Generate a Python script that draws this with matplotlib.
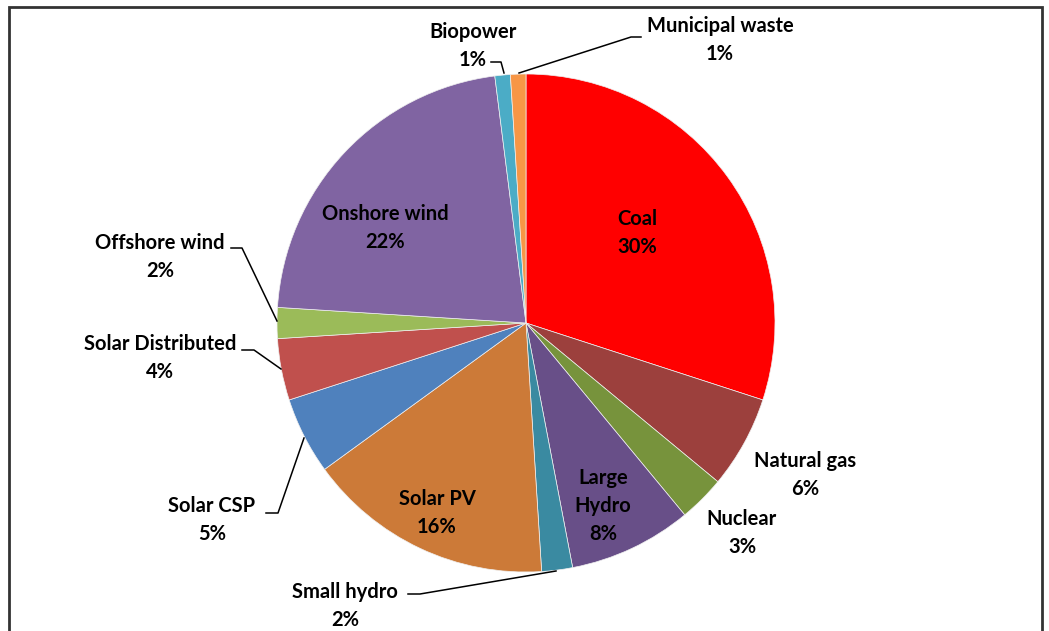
import matplotlib.pyplot as plt
from matplotlib.patches import Rectangle

# 数据（顺时针，从正上方开始）
labels = ['Coal', 'Natural gas', 'Nuclear', 'Large\nHydro', 'Small hydro',
          'Solar PV', 'Solar CSP', 'Solar Distributed', 'Offshore wind',
          'Onshore wind', 'Biopower', 'Municipal waste']
shares = [30, 6, 3, 8, 2, 16, 5, 4, 2, 22, 1, 1]
colors = ['#FF0000', '#9C403D', '#77933C', '#684F88', '#3A8AA1',
          '#CC7A38', '#4F81BD', '#C0504D', '#9BBB59', '#8064A2',
          '#4BACC6', '#F79646']

# 标签位置（像素，图片坐标）以及引线
label_pos = {
    'Coal': (637, 233), 'Natural gas': (805, 475), 'Nuclear': (742, 533),
    'Large\nHydro': (603, 506), 'Small hydro': (345, 606),
    'Solar PV': (437, 513), 'Solar CSP': (212, 520),
    'Solar Distributed': (160, 358), 'Offshore wind': (160, 257),
    'Onshore wind': (385, 228), 'Biopower': (473, 46),
    'Municipal waste': (720, 40),
}
leaders = {
    'Biopower': [(491, 62), (501, 62), (504, 73)],
    'Municipal waste': [(641, 37), (631, 37), (519, 73)],
    'Small hydro': [(408, 594), (420, 594), (556, 571)],
    'Solar CSP': [(266, 513), (278, 513), (304, 438)],
    'Solar Distributed': [(242, 350), (254, 350), (281, 369)],
    'Offshore wind': [(231, 248), (242, 248), (277, 321)],
}

W, H = 1049, 631
fig = plt.figure(figsize=(W / 100, H / 100), dpi=100)
ax = fig.add_axes([0, 0, 1, 1])
ax.set_xlim(0, W)
ax.set_ylim(0, H)
ax.set_aspect('equal')
ax.axis('off')

cx, cy, r = 526, 323, 249
ax.pie(shares, colors=colors, startangle=90, counterclock=False,
       center=(cx, H - cy), radius=r, frame=True,
       wedgeprops={'edgecolor': '#f0f0f0', 'linewidth': 0.5})
ax.set_xlim(0, W)
ax.set_ylim(0, H)
ax.axis('off')

font = dict(family=['Lato', 'DejaVu Sans'], fontsize=14.5, fontweight='bold')
for lab, val in zip(labels, shares):
    x, y = label_pos[lab]
    ax.text(x, H - y, f'{lab}\n{val}%', ha='center', va='center',
            linespacing=1.5, color='black', **font)

for lab, pts in leaders.items():
    xs = [p[0] for p in pts]
    ys = [H - p[1] for p in pts]
    ax.plot(xs, ys, color='black', linewidth=1.1)

# 外框
fig.patches.append(Rectangle((8.5 / W, -0.05), (1042 - 8.5) / W, 1.05 - 7 / H,
                             transform=fig.transFigure, fill=False,
                             edgecolor='#333333', linewidth=2))

fig.savefig('out.png', dpi=100)
